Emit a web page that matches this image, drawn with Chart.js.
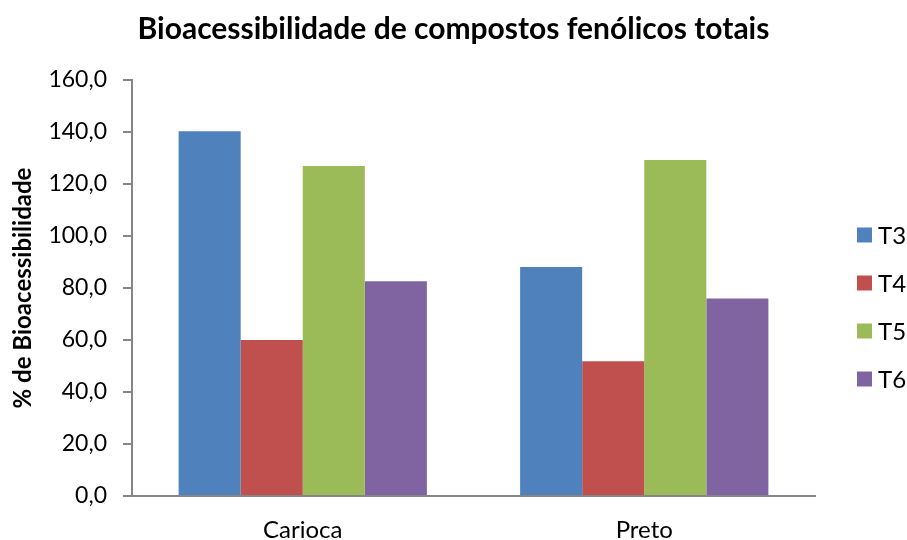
<!DOCTYPE html>
<html>
<head>
<meta charset="utf-8">
<script src="https://cdn.jsdelivr.net/npm/chart.js@4/dist/chart.umd.min.js"></script>
<style>
  html, body { margin: 0; padding: 0; background: #ffffff; }
  #wrap { width: 907px; height: 540px; position: relative; }
</style>
</head>
<body>
<div id="wrap"><canvas id="chart"></canvas></div>
<script>
// Bioacessibilidade (%) by bean type and treatment
const categories = ['Carioca', 'Preto'];
const seriesNames = ['T3', 'T4', 'T5', 'T6'];
const t3 = [140.3, 88.1];
const t4 = [60.0, 51.8];
const t5 = [126.9, 129.2];
const t6 = [82.6, 76.0];
const seriesValues = [t3, t4, t5, t6];
const seriesColors = ['#4F81BD', '#C0504D', '#9BBB59', '#8064A2'];
const yMin = 0, yMax = 160, yStep = 20;

const FONT = 'Lato, "Open Sans", sans-serif';
const AXIS_GRAY = '#868686';

// Legend drawn to the right of the plot: square swatch + series name
const sideLegend = {
  id: 'sideLegend',
  afterDraw(chart) {
    const ctx = chart.ctx;
    const area = chart.chartArea;
    const box = 15, gap = 48;
    const x0 = area.right + 42;
    const yc0 = (area.top + area.bottom) / 2 + 19 - gap * 1.5;
    ctx.save();
    ctx.font = '24px ' + FONT;
    ctx.textBaseline = 'middle';
    ctx.textAlign = 'left';
    chart.data.datasets.forEach((ds, i) => {
      const yc = yc0 + i * gap;
      ctx.fillStyle = ds.backgroundColor;
      ctx.fillRect(x0, yc - box / 2, box, box);
      ctx.fillStyle = '#000000';
      ctx.fillText(ds.label, x0 + box + 6, yc + 1);
    });
    ctx.restore();
  }
};

new Chart(document.getElementById('chart'), {
  type: 'bar',
  data: {
    labels: categories,
    datasets: seriesNames.map((name, i) => ({
      label: name,
      data: seriesValues[i],
      backgroundColor: seriesColors[i],
      borderWidth: 0,
      categoryPercentage: 0.727,
      barPercentage: 1.0
    }))
  },
  options: {
    responsive: true,
    maintainAspectRatio: false,
    animation: false,
    layout: { padding: 0 },
    plugins: {
      legend: { display: false },
      tooltip: { enabled: false },
      title: {
        display: true,
        text: 'Bioacessibilidade de compostos fenólicos totais',
        color: '#000000',
        font: { family: FONT, size: 30, weight: 'bold' },
        padding: { top: 11, bottom: 33 }
      }
    },
    scales: {
      x: {
        grid: { display: true, drawOnChartArea: false, drawTicks: false, color: AXIS_GRAY },
        border: { display: true, color: AXIS_GRAY, width: 2 },
        ticks: { color: '#000000', font: { family: FONT, size: 24 }, padding: 20 },
        afterFit(scale) { scale.height = 44; }
      },
      y: {
        min: yMin,
        max: yMax,
        grid: { display: true, drawOnChartArea: false, drawTicks: true, tickLength: 9, color: AXIS_GRAY, lineWidth: 2 },
        border: { display: true, color: AXIS_GRAY, width: 2 },
        ticks: {
          stepSize: yStep,
          color: '#000000',
          font: { family: FONT, size: 23 },
          padding: 16,
          callback: v => v.toFixed(1).replace('.', ',')
        },
        title: {
          display: true,
          text: '% de Bioacessibilidade',
          color: '#000000',
          font: { family: FONT, size: 24, weight: 'bold' },
          padding: { top: 9, bottom: 8 }
        },
        afterFit(scale) { scale.width = 132; }
      },
      // empty right-hand band that holds the legend
      legendBand: {
        type: 'linear',
        position: 'right',
        display: true,
        grid: { display: false },
        border: { display: false },
        ticks: { display: false },
        afterFit(scale) { scale.width = 92; }
      }
    }
  },
  plugins: [sideLegend]
});
</script>
</body>
</html>
